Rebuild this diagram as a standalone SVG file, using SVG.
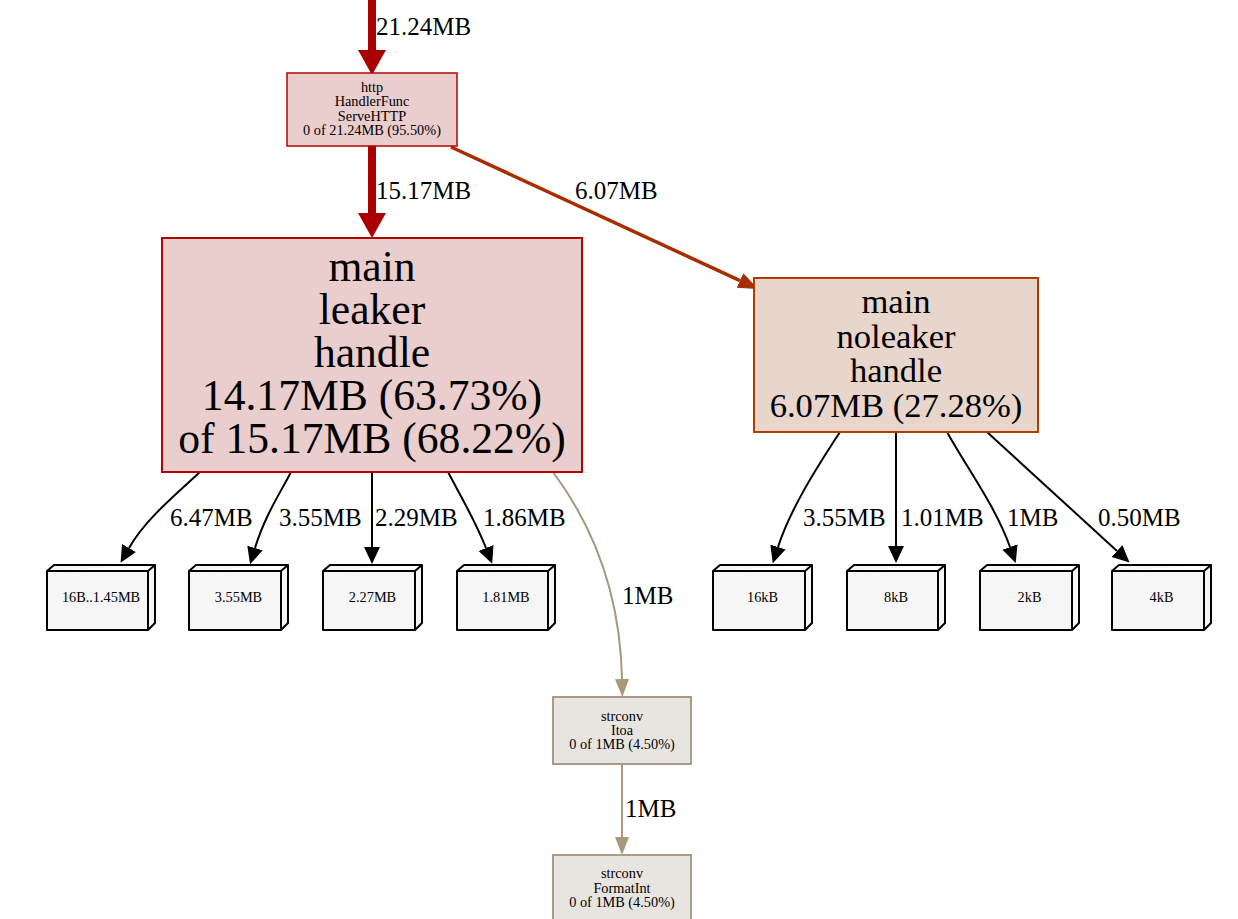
<svg xmlns="http://www.w3.org/2000/svg" width="1238" height="919" viewBox="0 0 1238 919">
<style>
text{font-family:"Liberation Serif","Times New Roman",serif;fill:#000}
.lbl{font-size:25px}
.sm{font-size:14.3px;text-anchor:middle}
.big{font-size:43.6px;text-anchor:middle}
.mid{font-size:34.6px;text-anchor:middle}
.e{fill:none}
.blk{stroke:#000;stroke-width:2}
.red{stroke:#aa0000;stroke-width:8}
.ora{stroke:#a82e00;stroke-width:3.5}
.tan{stroke:#a8967d;stroke-width:2}
.box3{fill:#f6f6f6;stroke:#000;stroke-width:2;stroke-linejoin:round}
</style>
<defs>
<marker id="aB" markerUnits="userSpaceOnUse" markerWidth="19" markerHeight="18" viewBox="0 0 19 18" refX="0" refY="9" orient="auto"><path d="M0,1 L17,9 L0,17 z" fill="#000"/></marker>
<marker id="aR" markerUnits="userSpaceOnUse" markerWidth="26" markerHeight="30" viewBox="0 0 26 30" refX="0" refY="15" orient="auto"><path d="M0,1 L25,15 L0,29 z" fill="#aa0000"/></marker>
<marker id="aO" markerUnits="userSpaceOnUse" markerWidth="22" markerHeight="18" viewBox="0 0 22 18" refX="0" refY="9" orient="auto"><path d="M0,1 L20,9 L0,17 z" fill="#a82e00"/></marker>
<marker id="aT" markerUnits="userSpaceOnUse" markerWidth="20" markerHeight="16" viewBox="0 0 20 16" refX="0" refY="8" orient="auto"><path d="M0,1 L18,8 L0,15 z" fill="#a8967d"/></marker>
</defs>
<rect width="1238" height="919" fill="#fff"/>

<g id="edges">
<path class="e red" d="M372,0 L372,50" marker-end="url(#aR)"/>
<text class="lbl" x="376" y="35">21.24MB</text>
<path class="e red" d="M372,146 L372,213" marker-end="url(#aR)"/>
<text class="lbl" x="376" y="199">15.17MB</text>
<path class="e ora" d="M451,147 L740,280.6" marker-end="url(#aO)"/>
<text class="lbl" x="575" y="199">6.07MB</text>

<path class="e blk" d="M200,472 C175,495 145,520 129,548" marker-end="url(#aB)"/>
<text class="lbl" x="170" y="526">6.47MB</text>
<path class="e blk" d="M291,472 C282,490 265,515 255,548" marker-end="url(#aB)"/>
<text class="lbl" x="279" y="526">3.55MB</text>
<path class="e blk" d="M372,472 L372,547" marker-end="url(#aB)"/>
<text class="lbl" x="375" y="526">2.29MB</text>
<path class="e blk" d="M448,472 C460,495 475,520 486,548" marker-end="url(#aB)"/>
<text class="lbl" x="483" y="526">1.86MB</text>
<path class="e tan" d="M553,472 C585,515 620,580 622,679" marker-end="url(#aT)"/>
<text class="lbl" x="622" y="604">1MB</text>

<path class="e blk" d="M840,432 C815,470 790,510 778,547" marker-end="url(#aB)"/>
<text class="lbl" x="803" y="526">3.55MB</text>
<path class="e blk" d="M896,432 L896,546" marker-end="url(#aB)"/>
<text class="lbl" x="901" y="526">1.01MB</text>
<path class="e blk" d="M947,432 C965,465 995,505 1010,547" marker-end="url(#aB)"/>
<text class="lbl" x="1007" y="526">1MB</text>
<path class="e blk" d="M987,432 L1117,551" marker-end="url(#aB)"/>
<text class="lbl" x="1098" y="526">0.50MB</text>

<path class="e tan" d="M622,764 L622,837" marker-end="url(#aT)"/>
<text class="lbl" x="625" y="817">1MB</text>
</g>

<g id="n_http">
<rect x="287" y="73" width="170" height="73" fill="#eacdcd" stroke="#b20400" stroke-width="1.5"/>
<text class="sm" x="372" y="92">http</text>
<text class="sm" x="372" y="106.3">HandlerFunc</text>
<text class="sm" x="372" y="120.6">ServeHTTP</text>
<text class="sm" x="372" y="134.9">0 of 21.24MB (95.50%)</text>
</g>

<g id="n_leaker">
<rect x="162" y="238" width="420" height="234" fill="#eacdcd" stroke="#b20400" stroke-width="2"/>
<text class="big" x="372" y="281">main</text>
<text class="big" x="372" y="324">leaker</text>
<text class="big" x="372" y="367">handle</text>
<text class="big" x="372" y="410">14.17MB (63.73%)</text>
<text class="big" x="372" y="453">of 15.17MB (68.22%)</text>
</g>

<g id="n_noleaker">
<rect x="754" y="278" width="284" height="154" fill="#e8d5cc" stroke="#b23c00" stroke-width="2"/>
<text class="mid" x="896" y="313">main</text>
<text class="mid" x="896" y="347.7">noleaker</text>
<text class="mid" x="896" y="382.3">handle</text>
<text class="mid" x="896" y="417">6.07MB (27.28%)</text>
</g>

<g id="n_b1">
<path class="box3" d="M47,571 L54,565 L155,565 L155,623 L148,630 L47,630 Z M47,571 L148,571 L155,565 M148,571 L148,630"/>
<text class="sm" x="101" y="602">16B..1.45MB</text>
</g>
<g id="n_b2">
<path class="box3" d="M189,571 L196,565 L288,565 L288,623 L281,630 L189,630 Z M189,571 L281,571 L288,565 M281,571 L281,630"/>
<text class="sm" x="238.5" y="602">3.55MB</text>
</g>
<g id="n_b3">
<path class="box3" d="M323,571 L330,565 L422,565 L422,623 L415,630 L323,630 Z M323,571 L415,571 L422,565 M415,571 L415,630"/>
<text class="sm" x="372.5" y="602">2.27MB</text>
</g>
<g id="n_b4">
<path class="box3" d="M457,571 L464,565 L555,565 L555,623 L548,630 L457,630 Z M457,571 L548,571 L555,565 M548,571 L548,630"/>
<text class="sm" x="506" y="602">1.81MB</text>
</g>
<g id="n_b5">
<path class="box3" d="M713,571 L720,565 L812,565 L812,623 L805,630 L713,630 Z M713,571 L805,571 L812,565 M805,571 L805,630"/>
<text class="sm" x="762.5" y="602">16kB</text>
</g>
<g id="n_b6">
<path class="box3" d="M847,571 L854,565 L945,565 L945,623 L938,630 L847,630 Z M847,571 L938,571 L945,565 M938,571 L938,630"/>
<text class="sm" x="896" y="602">8kB</text>
</g>
<g id="n_b7">
<path class="box3" d="M980,571 L987,565 L1079,565 L1079,623 L1072,630 L980,630 Z M980,571 L1072,571 L1079,565 M1072,571 L1072,630"/>
<text class="sm" x="1029.5" y="602">2kB</text>
</g>
<g id="n_b8">
<path class="box3" d="M1112,571 L1119,565 L1211,565 L1211,623 L1204,630 L1112,630 Z M1112,571 L1204,571 L1211,565 M1204,571 L1204,630"/>
<text class="sm" x="1161.5" y="602">4kB</text>
</g>

<g id="n_itoa">
<rect x="553" y="697" width="138" height="67" fill="#e8e5e0" stroke="#aa9b87" stroke-width="2"/>
<text class="sm" x="622" y="720.5">strconv</text>
<text class="sm" x="622" y="734.5">Itoa</text>
<text class="sm" x="622" y="748.5">0 of 1MB (4.50%)</text>
</g>

<g id="n_formatint">
<rect x="553" y="855" width="138" height="67" fill="#e8e5e0" stroke="#aa9b87" stroke-width="2"/>
<text class="sm" x="622" y="878">strconv</text>
<text class="sm" x="622" y="892.5">FormatInt</text>
<text class="sm" x="622" y="907">0 of 1MB (4.50%)</text>
</g>
</svg>
